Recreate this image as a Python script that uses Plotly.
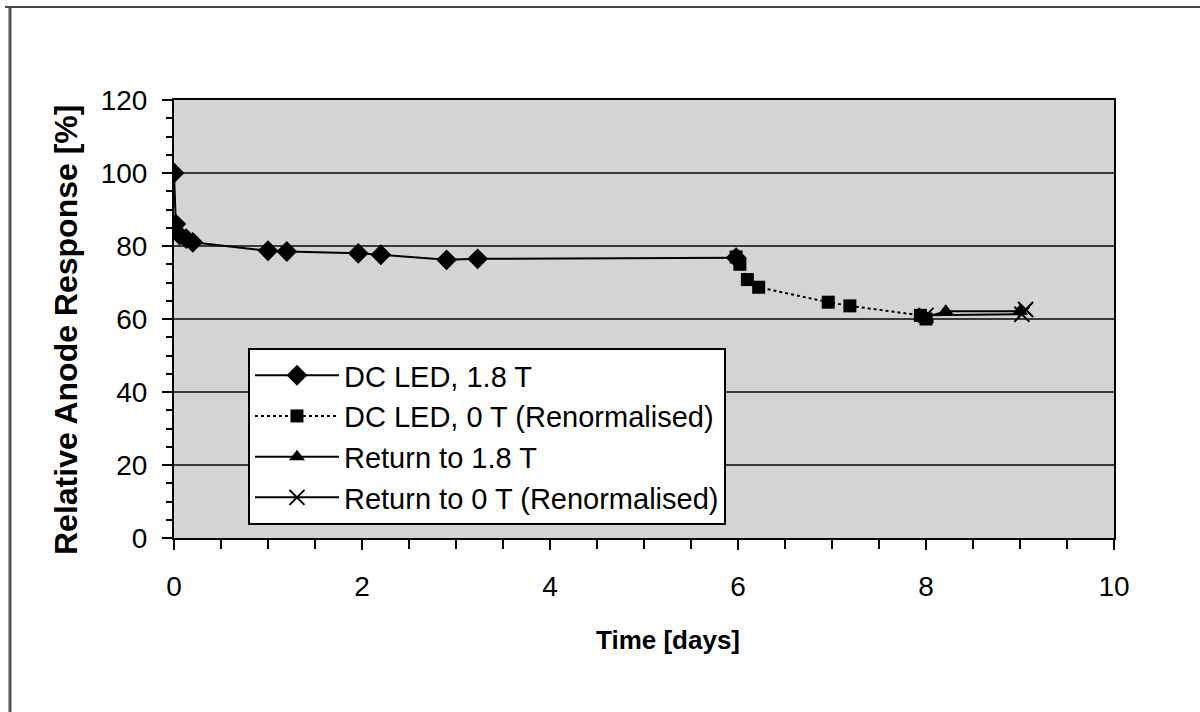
import plotly.graph_objects as go

# ---- data ----
dc18_t = [0.0, 0.02, 0.06, 0.13, 0.2, 1.0, 1.2, 1.96, 2.2, 2.9, 3.23, 5.98]
dc18_v = [100.0, 86.0, 83.0, 82.0, 81.0, 78.7, 78.5, 78.0, 77.6, 76.2, 76.5, 76.8]

dc0_t = [5.98, 6.02, 6.1, 6.22, 6.96, 7.19, 7.94, 8.0]
dc0_v = [77.0, 75.0, 70.8, 68.7, 64.6, 63.6, 61.0, 60.0]

ret18_t = [8.0, 8.21, 9.0]
ret18_v = [60.5, 62.1, 62.1]

ret0_t = [8.0, 9.02, 9.06]
ret0_v = [61.0, 61.3, 62.6]

names = ["DC LED, 1.8 T", "DC LED, 0 T (Renormalised)", "Return to 1.8 T",
         "Return to 0 T (Renormalised)"]

x_ticks = [0, 2, 4, 6, 8, 10]
y_ticks = [0, 20, 40, 60, 80, 100, 120]

x_title = "Time [days]"
y_title = "Relative Anode Response [%]"

FONT = "Liberation Sans, Arial, sans-serif"

fig = go.Figure()
fig.add_trace(go.Scatter(x=dc18_t, y=dc18_v, name=names[0], mode="lines+markers",
                         line=dict(color="black", width=2),
                         marker=dict(symbol="diamond", size=16, color="black")))
fig.add_trace(go.Scatter(x=dc0_t, y=dc0_v, name=names[1], mode="lines+markers",
                         line=dict(color="black", width=2, dash="dot"),
                         marker=dict(symbol="square", size=13, color="black")))
fig.add_trace(go.Scatter(x=ret18_t, y=ret18_v, name=names[2], mode="lines+markers",
                         line=dict(color="black", width=2),
                         marker=dict(symbol="triangle-up", size=14, color="black")))
fig.add_trace(go.Scatter(x=ret0_t, y=ret0_v, name=names[3], mode="lines+markers",
                         line=dict(color="black", width=2),
                         marker=dict(symbol="x-thin", size=15, color="black",
                                     line=dict(color="black", width=2))))

fig.update_layout(
    width=1200, height=712,
    margin=dict(l=174, r=86, t=100, b=174),
    paper_bgcolor="white",
    plot_bgcolor="#d4d4d4",
    font=dict(family=FONT, size=28, color="black"),
    showlegend=True,
    legend=dict(x=0.0787, y=0.434, xanchor="left", yanchor="top",
                bgcolor="white", bordercolor="black", borderwidth=2,
                font=dict(family=FONT, size=29, color="black"),
                itemwidth=84, tracegroupgap=0),
    xaxis=dict(range=[0, 10], tickvals=x_ticks, ticktext=[str(v) for v in x_ticks],
               showgrid=False, zeroline=False, showline=True, linecolor="black",
               linewidth=2, mirror=True, ticks="outside", ticklen=10, tickwidth=2,
               tickcolor="black", ticklabelstandoff=12,
               minor=dict(dtick=0.5, ticks="outside", ticklen=9, tickwidth=2,
                          tickcolor="black", showgrid=False)),
    yaxis=dict(range=[0, 120], tickvals=y_ticks, ticktext=[str(v) for v in y_ticks],
               showgrid=True, gridcolor="#3a3a3a", gridwidth=2,
               zeroline=False, showline=True, linecolor="black",
               linewidth=2, mirror=True, ticks="outside", ticklen=10, tickwidth=2,
               tickcolor="black", ticklabelstandoff=9,
               minor=dict(dtick=5, ticks="outside", ticklen=6, tickwidth=2,
                          tickcolor="black", showgrid=False)),
)

# axis titles (placed as in the reference, slightly off-centre)
fig.add_annotation(text="<b>" + x_title + "</b>", xref="paper", yref="paper",
                   x=(668 - 174) / 940, y=(538 - 640) / 438, showarrow=False,
                   xanchor="center", yanchor="middle",
                   font=dict(family=FONT, size=26, color="black"))
fig.add_annotation(text="<b>" + y_title + "</b>", xref="paper", yref="paper",
                   x=(66 - 174) / 940, y=(538 - 330) / 438, showarrow=False,
                   textangle=-90, xanchor="center", yanchor="middle",
                   font=dict(family=FONT, size=32, color="black"))

# outer scanned frame (left and top edges)
fig.add_shape(type="line", xref="paper", yref="paper",
              x0=(10 - 174) / 940, x1=(10 - 174) / 940,
              y0=(538 - 7) / 438, y1=(538 - 712) / 438,
              line=dict(color="#555555", width=3))
fig.add_shape(type="line", xref="paper", yref="paper",
              x0=(5 - 174) / 940, x1=(1200 - 174) / 940,
              y0=(538 - 7) / 438, y1=(538 - 7) / 438,
              line=dict(color="#444444", width=2))

fig.write_html("out.html")
